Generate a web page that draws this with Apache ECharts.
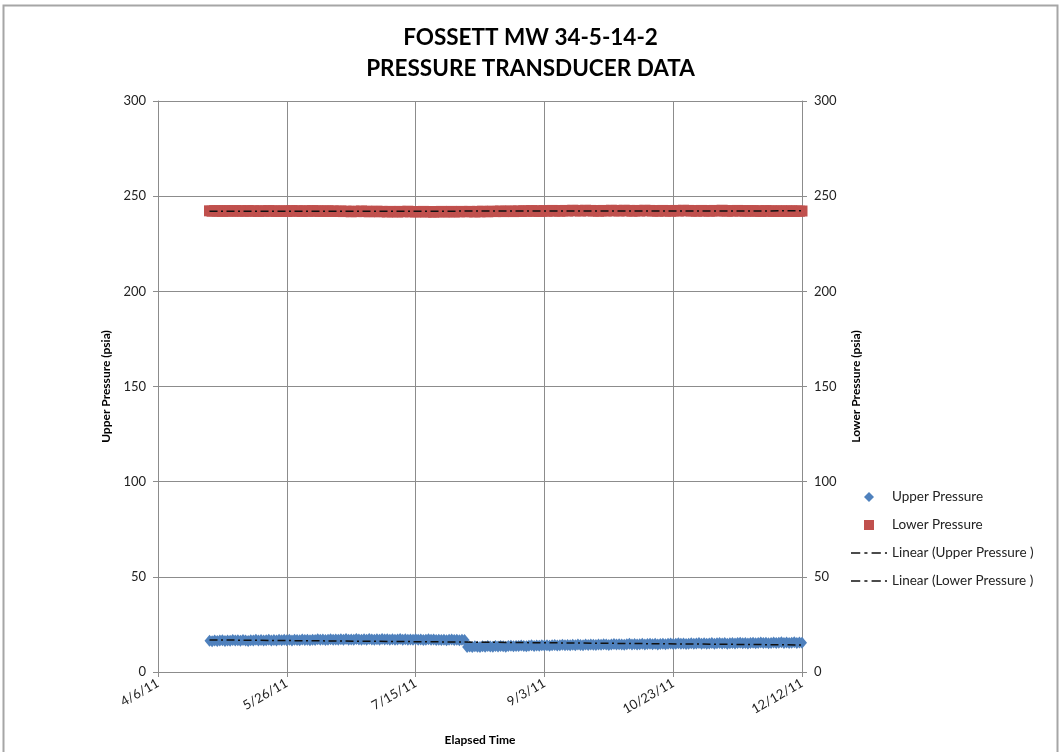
<!DOCTYPE html>
<html>
<head>
<meta charset="utf-8">
<title>FOSSETT MW 34-5-14-2 Pressure Transducer Data</title>
<script src="https://cdn.jsdelivr.net/npm/echarts@6/dist/echarts.min.js"></script>
<style>
  html, body { margin: 0; padding: 0; background: #fff; }
  #chart { width: 1061px; height: 752px; }
</style>
</head>
<body>
<div id="chart"></div>
<script>
// Axis calendar: day 0 is 4/6/11, ticks every 50 days through 12/12/11
const axisStartDate = [2011, 3, 6];
const axisDays = 250;
const tickDays = 50;

// Daily readings, first reading 4/26/11 (day 20), last 12/12/11 (day 250)
const firstReadingDay = 20;
const readingStepDays = 1;

// Upper pressure (psia)
const upperPressure = [
  16.4,16.2,16.6,16.3,16.5,16.7,16.3,16.6,16.4,16.8,
  16.5,16.7,16.4,16.8,16.6,16.3,16.7,16.5,16.9,16.6,
  16.8,16.5,16.7,16.9,16.6,16.8,16.5,16.9,16.7,17.0,
  16.7,16.9,16.6,17.0,16.8,16.7,17.1,16.8,17.0,16.7,
  17.0,16.8,17.2,16.9,17.1,16.8,17.0,17.2,16.9,17.1,
  16.9,17.2,17.0,17.3,16.9,17.1,17.0,17.3,17.1,16.9,
  17.2,17.0,17.3,17.1,16.9,17.2,17.0,17.3,17.1,17.2,
  17.0,17.2,16.9,17.1,17.3,17.0,17.2,16.9,17.1,17.0,
  17.2,16.9,17.1,16.8,17.0,17.2,16.9,17.1,16.8,17.0,
  16.8,17.0,16.7,16.9,17.1,16.8,17.0,16.7,16.9,16.8,
  13.2,13.4,13.1,13.5,13.3,13.2,13.5,13.3,13.6,13.4,
  13.3,13.6,13.4,13.7,13.5,13.3,13.6,13.8,13.5,13.7,
  13.6,13.9,13.7,13.5,13.8,14.0,13.7,13.9,13.8,14.1,
  13.9,14.1,13.8,14.0,14.2,13.9,14.1,14.3,14.0,14.2,
  14.1,14.3,14.0,14.4,14.2,14.1,14.4,14.2,14.5,14.3,
  14.2,14.5,14.3,14.6,14.4,14.2,14.5,14.7,14.4,14.6,
  14.5,14.3,14.6,14.8,14.5,14.7,14.4,14.6,14.8,14.5,
  14.7,14.9,14.6,14.8,14.5,14.7,14.9,14.6,14.8,15.0,
  14.7,14.9,15.1,14.8,15.0,14.7,14.9,15.1,14.8,15.0,
  15.2,14.9,15.1,14.8,15.0,15.2,14.9,15.1,15.3,15.0,
  15.2,14.9,15.1,15.3,15.0,15.2,15.4,15.1,15.3,15.0,
  15.2,15.4,15.1,15.3,15.5,15.2,15.4,15.1,15.3,15.5,
  15.2,15.4,15.6,15.3,15.5,15.2,15.4,15.6,15.3,15.5,
  15.4
];

// Lower pressure (psia)
const lowerPressure = [
  242.3,242.1,242.4,242.2,242.3,242.0,242.4,242.2,242.3,242.1,
  242.4,242.2,242.3,242.1,242.2,242.4,242.1,242.3,242.2,242.0,
  242.3,242.1,242.2,242.4,242.1,242.3,242.0,242.2,242.1,242.3,
  242.0,242.2,242.4,242.1,242.3,242.2,242.0,242.3,242.1,242.2,
  242.4,242.1,242.3,242.0,242.2,242.1,242.3,242.0,242.2,242.1,
  242.0,242.2,241.9,242.1,242.0,241.8,242.1,241.9,242.0,242.2,
  241.9,242.1,241.8,242.0,241.9,242.1,241.8,242.0,241.9,241.7,
  242.0,241.8,241.9,241.7,242.0,241.8,241.9,242.1,241.8,241.9,
  241.7,241.9,241.8,242.0,241.7,241.9,241.8,241.6,241.9,241.8,
  242.0,241.7,241.9,241.8,242.0,241.7,241.9,241.8,242.0,241.9,
  241.8,242.0,241.9,241.7,242.0,241.8,242.1,241.9,241.8,242.0,
  242.1,241.9,242.0,242.2,241.9,242.1,242.0,242.2,241.9,242.1,
  242.2,242.0,242.3,242.1,242.2,242.4,242.1,242.3,242.0,242.2,
  242.4,242.1,242.3,242.5,242.2,242.4,242.1,242.3,242.5,242.2,
  242.4,242.6,242.3,242.5,242.2,242.4,242.6,242.3,242.5,242.2,
  242.4,242.1,242.3,242.5,242.2,242.4,242.6,242.3,242.5,242.2,
  242.4,242.6,242.3,242.5,242.1,242.3,242.5,242.2,242.4,242.6,
  242.3,242.5,242.2,242.4,242.1,242.3,242.5,242.2,242.4,242.1,
  242.3,242.5,242.2,242.4,242.6,242.3,242.5,242.2,242.4,242.1,
  242.3,242.5,242.2,242.4,242.1,242.3,242.5,242.2,242.4,242.6,
  242.3,242.1,242.4,242.2,242.3,242.5,242.2,242.4,242.1,242.3,
  242.2,242.4,242.1,242.3,242.0,242.2,242.4,242.1,242.3,242.0,
  242.2,242.1,242.3,242.0,242.2,242.1,242.3,242.0,242.2,242.1,
  242.2
];

const yTicks = [0, 50, 100, 150, 200, 250, 300];

const FONT = 'Lato, "Open Sans", sans-serif';
const BLUE = '#4F81BD';
const RED = '#C0504D';
const GRID = '#8c8c8c';
const TREND = '#111111';

function toPoints(values) {
  return values.map((v, i) => [firstReadingDay + i * readingStepDays, v]);
}

// Least-squares straight line through a series, drawn across its span
function linearFit(points) {
  const n = points.length;
  let sx = 0, sy = 0, sxx = 0, sxy = 0;
  points.forEach(([x, y]) => { sx += x; sy += y; sxx += x * x; sxy += x * y; });
  const slope = (n * sxy - sx * sy) / (n * sxx - sx * sx);
  const icpt = (sy - slope * sx) / n;
  const x0 = points[0][0], x1 = points[n - 1][0];
  return [[x0, icpt + slope * x0], [x1, icpt + slope * x1]];
}

function dayLabel(d) {
  const t = new Date(Date.UTC(axisStartDate[0], axisStartDate[1], axisStartDate[2]) + d * 86400000);
  return (t.getUTCMonth() + 1) + '/' + t.getUTCDate() + '/' + String(t.getUTCFullYear()).slice(2);
}

const upperPts = toPoints(upperPressure);
const lowerPts = toPoints(lowerPressure);

const trendStyle = { color: TREND, width: 1.5, type: [8, 3.5, 2, 3.5] };

// Legend glyphs
const ICON_DIAMOND = 'path://M5,0L10,5L5,10L0,5Z';
const ICON_SQUARE = 'path://M0,0H10V10H0Z';
const ICON_DASHDOT = 'path://M0,0H9V1.5H0Z M13,0H16V1.5H13Z M20,0H29V1.5H20Z M33,0H35V1.5H33Z';

const chart = echarts.init(document.getElementById('chart'), null, { renderer: 'canvas' });
chart.setOption({
  animation: false,
  backgroundColor: '#fff',
  textStyle: { fontFamily: FONT },
  title: {
    text: 'FOSSETT MW 34-5-14-2\nPRESSURE TRANSDUCER DATA',
    left: 'center',
    top: 17,
    textStyle: { fontFamily: FONT, fontSize: 22.5, fontWeight: 'bold', color: '#000', lineHeight: 31 }
  },
  graphic: [{
    type: 'rect',
    shape: { x: 3.5, y: 5.5, width: 1054, height: 760 },
    style: { fill: 'none', stroke: '#a6a6a6', lineWidth: 2 },
    silent: true
  }],
  legend: {
    orient: 'vertical',
    left: 846,
    top: 485,
    itemWidth: 36,
    itemHeight: 10,
    itemGap: 14,
    symbolKeepAspect: true,
    textStyle: { fontFamily: FONT, fontSize: 13.5, color: '#222', lineHeight: 14 },
    data: [
      { name: 'Upper Pressure', icon: ICON_DIAMOND },
      { name: 'Lower Pressure', icon: ICON_SQUARE },
      { name: 'Linear (Upper Pressure )', icon: ICON_DASHDOT },
      { name: 'Linear (Lower Pressure )', icon: ICON_DASHDOT }
    ]
  },
  grid: { left: 158, right: 259, top: 101, bottom: 80, containLabel: false },
  xAxis: {
    type: 'value',
    min: 0,
    max: axisDays,
    interval: tickDays,
    name: 'Elapsed Time',
    nameLocation: 'middle',
    nameGap: 62,
    nameTextStyle: { fontFamily: FONT, fontSize: 12, fontWeight: 'bold', color: '#000' },
    axisLine: { show: true, onZero: false, lineStyle: { color: GRID, width: 1 } },
    axisTick: { show: true, length: 5, lineStyle: { color: GRID } },
    splitLine: { show: true, lineStyle: { color: GRID, width: 1 } },
    axisLabel: { rotate: 30, margin: 10, fontFamily: FONT, fontSize: 13, color: '#222', formatter: dayLabel }
  },
  yAxis: [{
    type: 'value',
    position: 'left',
    min: yTicks[0],
    max: yTicks[yTicks.length - 1],
    interval: yTicks[1] - yTicks[0],
    name: 'Upper Pressure (psia)',
    nameLocation: 'middle',
    nameRotate: 90,
    nameGap: 46,
    nameTextStyle: { fontFamily: FONT, fontSize: 12, fontWeight: 'bold', color: '#000' },
    axisLine: { show: true, lineStyle: { color: GRID, width: 1 } },
    axisTick: { show: true, length: 5, lineStyle: { color: GRID } },
    splitLine: { show: true, lineStyle: { color: GRID, width: 1 } },
    axisLabel: { margin: 12, fontFamily: FONT, fontSize: 13, color: '#222' }
  }, {
    type: 'value',
    position: 'right',
    min: yTicks[0],
    max: yTicks[yTicks.length - 1],
    interval: yTicks[1] - yTicks[0],
    name: 'Lower Pressure (psia)',
    nameLocation: 'middle',
    nameRotate: 90,
    nameGap: 48,
    nameTextStyle: { fontFamily: FONT, fontSize: 12, fontWeight: 'bold', color: '#000' },
    axisLine: { show: true, lineStyle: { color: GRID, width: 1 } },
    axisTick: { show: true, length: 5, lineStyle: { color: GRID } },
    splitLine: { show: false },
    axisLabel: { margin: 12, fontFamily: FONT, fontSize: 13, color: '#222' }
  }],
  series: [{
    name: 'Upper Pressure',
    type: 'scatter',
    yAxisIndex: 0,
    symbol: 'diamond',
    symbolSize: [10, 12],
    itemStyle: { color: BLUE, opacity: 1 },
    data: upperPts,
    large: false,
    z: 2
  }, {
    name: 'Lower Pressure',
    type: 'scatter',
    yAxisIndex: 1,
    symbol: 'rect',
    symbolSize: 11,
    itemStyle: { color: RED, opacity: 1 },
    data: lowerPts,
    large: false,
    z: 2
  }, {
    name: 'Linear (Upper Pressure )',
    type: 'line',
    yAxisIndex: 0,
    symbol: 'none',
    lineStyle: trendStyle,
    itemStyle: { color: TREND },
    data: linearFit(upperPts),
    z: 3
  }, {
    name: 'Linear (Lower Pressure )',
    type: 'line',
    yAxisIndex: 1,
    symbol: 'none',
    lineStyle: trendStyle,
    itemStyle: { color: TREND },
    data: linearFit(lowerPts),
    z: 3
  }]
});
</script>
</body>
</html>
